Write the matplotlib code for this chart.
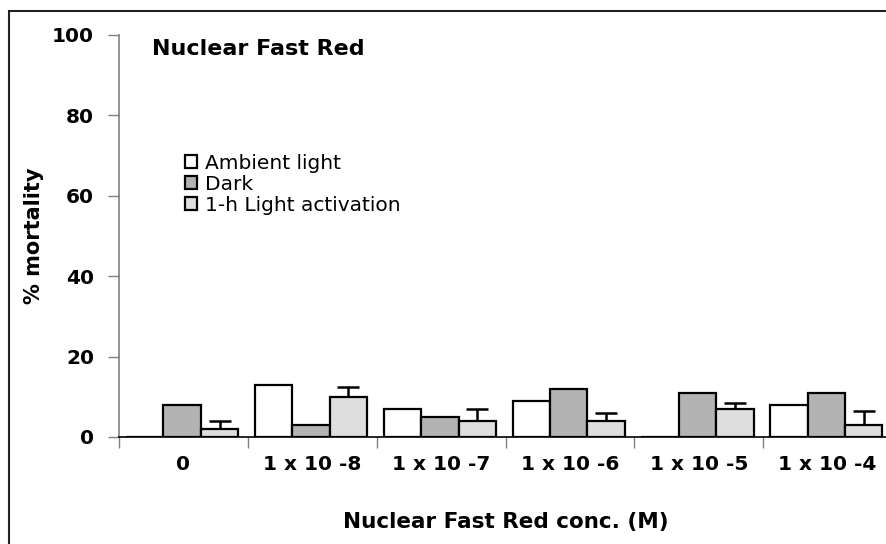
import numpy as np
import matplotlib
matplotlib.use('Agg')
import matplotlib.pyplot as plt
from matplotlib.patches import Rectangle

plt.rcParams['font.family'] = 'DejaVu Sans'

# mortality (%) per concentration
concs = ['0', '1 x 10 -8', '1 x 10 -7', '1 x 10 -6', '1 x 10 -5', '1 x 10 -4']
ambient = [0, 13, 7, 9, 0, 8]
dark = [8, 3, 5, 12, 11, 11]
light_act = [2, 10, 4, 4, 7, 3]
light_err = [2, 2.5, 3, 2, 1.5, 3.5]

fig = plt.figure(figsize=(8.87, 5.44), dpi=100)
ax = fig.add_axes([0.1342, 0.1967, 0.8715, 0.739])

# outer frame of the figure
fig.patches.append(Rectangle((9 / 887, -0.1), 1.2, 1 - 11 / 544 + 0.1,
                             transform=fig.transFigure, fill=False,
                             edgecolor='#222222', lw=1.5, clip_on=False))

x = np.arange(len(concs))
w = 0.29
off = -0.01
kw = dict(width=w, edgecolor='black', linewidth=1.6, zorder=3)
b1 = ax.bar(x + off - w, ambient, color='white', label='Ambient light', **kw)
b2 = ax.bar(x + off, dark, color='#b3b3b3', label='Dark', **kw)
b3 = ax.bar(x + off + w, light_act, color='#dedede', label='1-h Light activation', **kw)
ax.errorbar(x + off + w, light_act, yerr=[np.zeros(len(x)), light_err],
            fmt='none', ecolor='black', elinewidth=1.8, capsize=8, capthick=1.8,
            zorder=2)

ax.set_xlim(-0.5, 5.5)
ax.set_ylim(0, 100)
ax.set_yticks(range(0, 101, 20))
ax.set_xticks(np.arange(-0.5, 6, 1))
ax.set_xticklabels([])
ax.set_xticks(x, minor=True)
ax.set_xticklabels(concs, minor=True, fontsize=14.5, fontweight='bold')
ax.tick_params(axis='x', which='minor', length=0, pad=13)
ax.tick_params(axis='x', which='major', length=8, color='#808080', width=1)
ax.tick_params(axis='y', length=8, color='#808080', width=1, pad=10,
               labelsize=14.5)
for t in ax.get_yticklabels():
    t.set_fontweight('bold')

for s in ['top', 'right']:
    ax.spines[s].set_visible(False)
ax.spines['left'].set_color('#808080')
ax.spines['left'].set_linewidth(1.2)
ax.spines['bottom'].set_color('black')
ax.spines['bottom'].set_linewidth(1.2)
ax.spines['bottom'].set_zorder(4)

ax.set_ylabel('% mortality', fontsize=15, fontweight='bold', labelpad=6)
ax.set_xlabel('Nuclear Fast Red conc. (M)', fontsize=15.5, fontweight='bold',
              labelpad=27)
ax.text(0.043, 0.99, 'Nuclear Fast Red', transform=ax.transAxes,
        fontsize=16, fontweight='bold', va='top', ha='left')

ax.legend(loc='upper left', bbox_to_anchor=(0.085, 0.705), frameon=False,
          fontsize=14.5, handlelength=0.6, handleheight=0.6, handletextpad=0.4,
          labelspacing=0.1, borderpad=0, borderaxespad=0)

fig.savefig('out.png', dpi=100)
